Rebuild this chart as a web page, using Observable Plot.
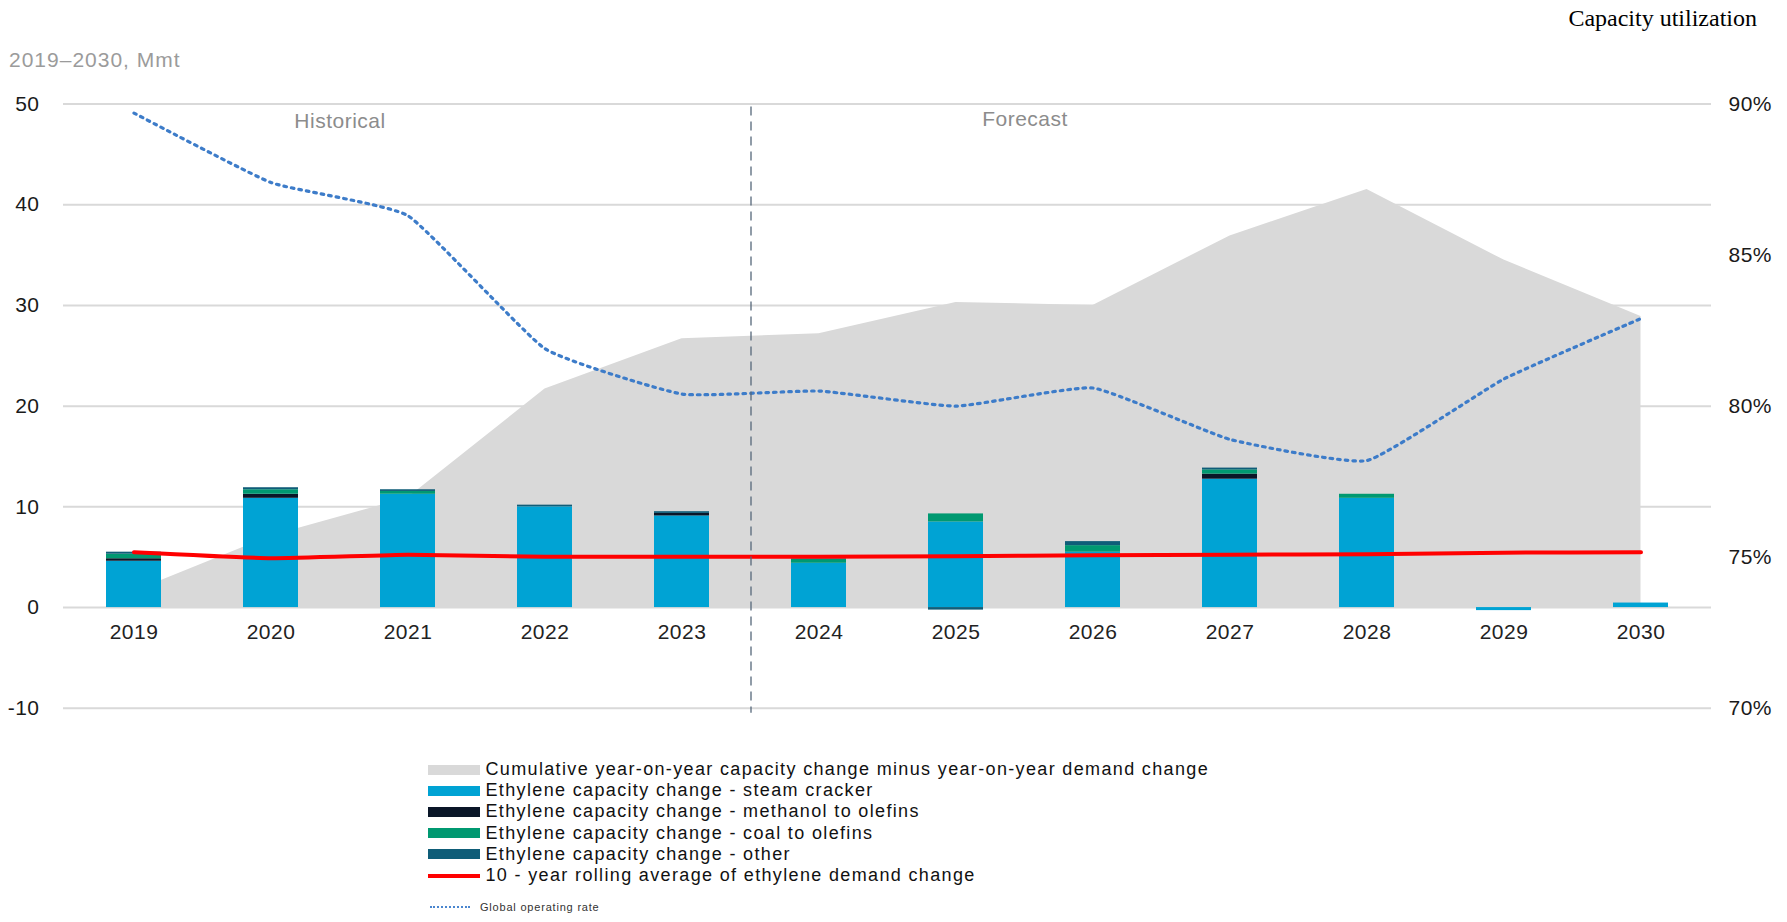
<!DOCTYPE html>
<html>
<head>
<meta charset="utf-8">
<script src="https://cdn.jsdelivr.net/npm/d3@7"></script>
<script src="https://cdn.jsdelivr.net/npm/@observablehq/plot@0.6"></script>
<style>
  body { margin: 0; background: #fff; width: 1787px; height: 922px; overflow: hidden;
         font-family: "Liberation Sans", Arial, sans-serif; }
  #header { position: relative; height: 75px; }
  #unit { position: absolute; right: 30px; top: 5.6px; font-family: "Liberation Serif", "Times New Roman", serif;
          font-size: 24px; line-height: 24px; color: #000; white-space: nowrap; }
  #subtitle { position: absolute; left: 9px; top: 49px; font-size: 21px; line-height: 21px;
              letter-spacing: 1px; color: #9b9b9b; white-space: nowrap; }
  #chart { height: 684px; }
  #chart svg text { letter-spacing: 0.5px; }
  #legend { margin-left: 428px; font-size: 18px; letter-spacing: 1.35px; color: #111; }
  .row { display: flex; align-items: center; height: 21.2px; white-space: nowrap; }
  .sw { width: 52px; margin-right: 5.5px; flex: none; }
  .small { margin-top: 14.8px; height: 12px; font-size: 11px; letter-spacing: 0.8px; color: #333; }
  .dots { width: 40px; margin-left: 2px; margin-right: 10px; border-top: 2.5px dotted #4a86cf; flex: none; }
</style>
</head>
<body>
<div id="header">
  <div id="unit">Capacity utilization</div>
  <div id="subtitle">2019–2030, Mmt</div>
</div>
<div id="chart"></div>
<div id="legend"></div>
<script>
// ---------- data ----------
const years = ["2019","2020","2021","2022","2023","2024","2025","2026","2027","2028","2029","2030"];
const steamCracker      = [4.6, 10.85, 11.25, 10.0, 9.1, 4.4, 8.5, 5.5, 12.75, 10.85, -0.3, 0.45];
const methanolToOlefins = [0.25, 0.4, 0, 0, 0.25, 0, 0, 0, 0.5, 0, 0, 0];
const coalToOlefins     = [0.45, 0.45, 0.28, 0, 0, 0.4, 0.8, 0.65, 0.42, 0.4, 0, 0];
const otherCapacity     = [0.2, 0.2, 0.17, 0.17, 0.17, 0.05, -0.25, 0.4, 0.18, 0, 0, 0];
const cumulativeGap     = [1.6, 7.1, 10.9, 21.7, 26.7, 27.2, 30.3, 30.0, 36.9, 41.5, 34.5, 28.9];
const rollingAvgDemand  = [5.5, 4.9, 5.25, 5.05, 5.05, 5.05, 5.1, 5.2, 5.25, 5.3, 5.45, 5.5];
const operatingRate     = [89.7, 87.4, 86.3, 81.9, 80.4, 80.5, 80.0, 80.6, 78.9, 78.2, 80.9, 82.9]; // %
const leftTicks  = [-10, 0, 10, 20, 30, 40, 50];
const rightTicks = [70, 75, 80, 85, 90]; // %
const phaseLabels = ["Historical", "Forecast"];
const phaseYears  = ["2020", "2025"];
const dividerYear = "2023";

const seriesNames = [
  "Ethylene capacity change - steam cracker",
  "Ethylene capacity change - methanol to olefins",
  "Ethylene capacity change - coal to olefins",
  "Ethylene capacity change - other"
];
const seriesColors = ["#00a3d4", "#0a1628", "#009971", "#0f5d78"];
const areaLabel = "Cumulative year-on-year capacity change minus year-on-year demand change";
const redLabel = "10 - year rolling average of ethylene demand change";
const dotLabel = "Global operating rate";

// ---------- tables built from the arrays ----------
const seriesValues = [steamCracker, methanolToOlefins, coalToOlefins, otherCapacity];
const bars = [];
seriesNames.forEach((s, i) => years.forEach((y, j) => bars.push({year: y, series: s, value: seriesValues[i][j]})));
const gap = years.map((y, i) => ({year: y, value: cumulativeGap[i]}));
const avg = years.map((y, i) => ({year: y, value: rollingAvgDemand[i]}));
const rate = years.map((y, i) => ({year: y, rate: operatingRate[i]}));
// right axis: 70% ↔ -10, 90% ↔ 50 on the left scale
const pctToY = p => (p - 70) * 3 - 10;
const yToPct = v => (v + 10) / 3 + 70;
const smooth = d3.curveCardinal.tension(0.6);

const chart = Plot.plot({
  width: 1787,
  height: 684,
  marginTop: 28.5,
  marginBottom: 51.2,
  marginLeft: 63,
  marginRight: 76,
  style: {fontFamily: '"Liberation Sans", Arial, sans-serif', fontSize: "21px", background: "white", overflow: "visible"},
  x: {type: "band", domain: years, paddingInner: 0.6, paddingOuter: 0.3, axis: null},
  y: {domain: [-10, 50], axis: null},
  color: {domain: seriesNames, range: seriesColors},
  marks: [
    Plot.gridY(leftTicks, {stroke: "#d9d9d9", strokeOpacity: 1, strokeWidth: 2}),
    Plot.areaY(gap, {x: "year", y: "value", fill: "#d9d9d9"}),
    Plot.barY(bars, {x: "year", y: "value", fill: "series"}),
    Plot.line(avg, {x: "year", y: "value", stroke: "#ff0000", strokeWidth: 4, curve: smooth}),
    Plot.line(rate, {x: "year", y: d => pctToY(d.rate), stroke: "#3d7cc9", strokeWidth: 3.2,
                     strokeDasharray: "2.6,5", curve: smooth}),
    Plot.ruleX([dividerYear], {x: d => d, dx: 69, y1: 49.7, y2: -10.5, stroke: "#56687a",
                               strokeWidth: 1.3, strokeDasharray: "9,6"}),
    Plot.text(phaseLabels, {x: (d, i) => phaseYears[i], y: (d, i) => i === 0 ? 48.3 : 48.5, dx: 69,
                            text: d => d, fill: "#8c8c8c", fontSize: 21}),
    Plot.text(years, {x: d => d, y: 0, dy: 25, text: d => d, fill: "#222", fontSize: 21}),
    Plot.axisY(leftTicks, {anchor: "left", tickSize: 0, tickPadding: 24, label: null, fill: "#1a1a1a", fontSize: 21,
                           tickFormat: v => String(v)}),
    Plot.axisY(rightTicks.map(pctToY), {anchor: "right", tickSize: 0, tickPadding: 17, label: null,
                                       tickFormat: v => Math.round(yToPct(v)) + "%", fill: "#1a1a1a", fontSize: 21})
  ]
});
document.getElementById("chart").append(chart);

// ---------- legend ----------
const legend = document.getElementById("legend");
function addRow(color, label, h) {
  const row = document.createElement("div");
  row.className = "row";
  const sw = document.createElement("span");
  sw.className = "sw";
  sw.style.height = h + "px";
  sw.style.background = color;
  const t = document.createElement("span");
  t.textContent = label;
  row.append(sw, t);
  legend.append(row);
}
addRow("#d9d9d9", areaLabel, 10);
seriesNames.forEach((s, i) => addRow(seriesColors[i], s, 10));
addRow("#ff0000", redLabel, 4);
const last = document.createElement("div");
last.className = "row small";
const d = document.createElement("span");
d.className = "dots";
const lt = document.createElement("span");
lt.textContent = dotLabel;
last.append(d, lt);
legend.append(last);
</script>
</body>
</html>
